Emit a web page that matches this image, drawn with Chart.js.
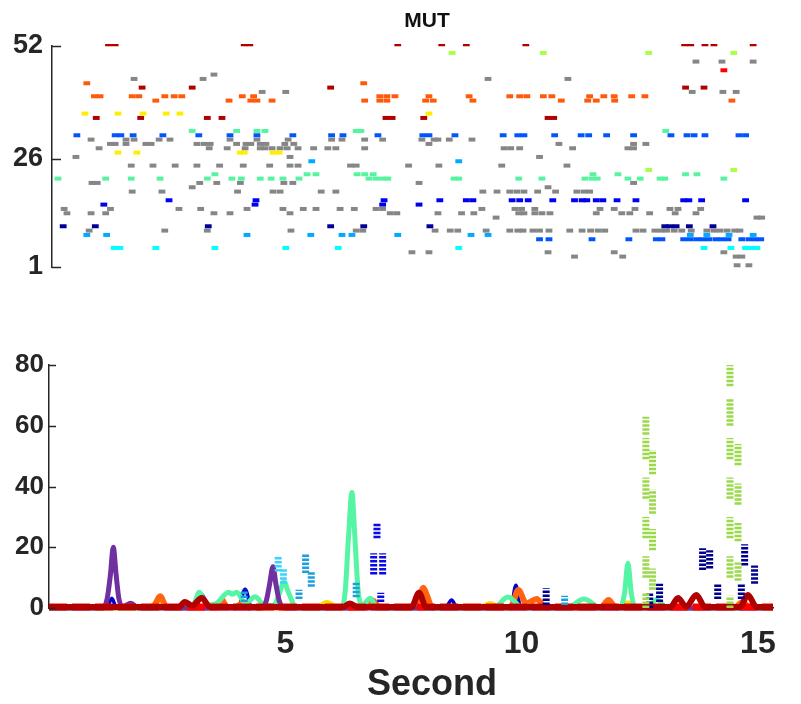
<!DOCTYPE html>
<html>
<head>
<meta charset="utf-8">
<script src="https://cdn.jsdelivr.net/npm/chart.js@4.4.1/dist/chart.umd.min.js"></script>
<style>
  html, body { margin: 0; padding: 0; background: #ffffff; }
  #wrap { position: relative; width: 801px; height: 704px; background: #ffffff; }
  #topc { position: absolute; left: 0; top: 0; }
  #botc { position: absolute; left: 0; top: 300px; }
</style>
</head>
<body>
<div id="wrap">
  <canvas id="topc" width="801" height="300"></canvas>
  <canvas id="botc" width="801" height="404"></canvas>
</div>
<script>
// ---------------- DATA ----------------
// Raster (top panel): neuron id and spike times (s)
const neuronIds = [52, 50, 48, 46, 45, 44, 43, 42, 41, 40, 39, 36, 35, 32, 31, 30, 29, 28, 27, 26, 25, 24, 23, 22, 21, 20, 19, 18, 16, 15, 14, 13, 12, 10, 9, 8, 7, 5, 4, 3, 1];
const spikeTimes = [
  [1.26, 1.40, 4.13, 4.25, 7.38, 8.31, 8.83, 10.09, 13.45, 13.58, 13.88, 14.07, 14.90],
  [8.53, 10.46, 12.69, 14.49],
  [13.69, 14.24, 14.90],
  [14.28],
  [3.49],
  [1.80, 3.26, 9.29, 10.98],
  [0.80, 6.66],
  [1.97, 3.03, 5.96, 13.47, 13.86],
  [4.51, 5.01, 13.61, 14.26, 14.54],
  [0.96, 1.08, 1.76, 1.90, 2.45, 2.65, 2.81, 4.09, 4.33, 7.00, 7.15, 7.32, 8.04, 8.89, 9.75, 9.96, 10.11, 10.46, 10.64, 11.44, 11.74, 11.96, 12.33, 12.61],
  [2.26, 3.81, 4.27, 4.40, 4.72, 6.68, 7.00, 7.15, 7.97, 8.13, 8.97, 10.84, 11.40, 11.58, 11.97, 14.45],
  [0.76, 1.46, 1.99, 2.48, 2.77, 8.04],
  [1.00, 1.94, 3.35, 3.66, 7.13, 7.26, 7.93, 10.56, 10.68],
  [3.03, 3.97, 4.40, 4.57, 6.50, 6.60, 13.05],
  [0.59, 1.40, 1.52, 1.78, 2.41, 3.17, 3.83, 4.40, 5.16, 5.98, 6.22, 6.96, 7.91, 8.04, 8.59, 9.61, 9.92, 10.05, 10.70, 11.26, 11.42, 11.80, 12.37, 13.16, 13.50, 13.65, 13.88, 14.60, 14.74],
  [0.89, 1.63, 1.80, 2.33, 2.56, 3.83, 4.40, 5.06, 5.98, 6.20, 6.68, 7.06, 7.89, 8.15, 8.23, 8.47, 8.95],
  [1.30, 1.40, 1.63, 2.05, 2.16, 3.13, 3.28, 3.41, 3.97, 4.17, 4.27, 4.47, 4.59, 4.99, 5.18, 8.04, 10.79, 12.37, 12.63],
  [1.06, 3.39, 3.77, 4.15, 4.47, 4.57, 4.72, 4.89, 5.04, 5.27, 5.60, 5.90, 6.07, 6.68, 9.63, 9.77, 9.96, 11.08, 12.25, 12.37],
  [1.46, 1.86, 4.05, 4.13, 4.74, 4.87],
  [0.57, 5.10, 10.38],
  [5.56, 8.67],
  [1.74, 2.20, 2.67, 3.13, 3.61, 4.11, 4.67, 5.10, 5.27, 6.38, 6.50, 7.61, 8.25, 9.58, 10.96],
  [12.69, 14.49],
  [3.51, 5.46, 5.65, 6.52, 6.68, 6.86, 11.51, 12.04, 13.47, 13.71],
  [0.19, 1.20, 1.74, 2.35, 3.35, 3.87, 4.07, 4.47, 4.70, 4.95, 5.29, 6.77, 6.92, 7.06, 7.17, 8.57, 8.67, 9.94, 10.43, 11.34, 11.49, 11.60, 12.25, 12.51, 12.93, 13.03, 14.28],
  [0.91, 1.02, 3.19, 3.55, 4.05, 4.97, 5.16, 7.83, 12.37],
  [3.03, 10.56],
  [1.76, 2.39, 3.99, 4.74, 4.89, 5.76, 6.07, 9.18, 9.48, 9.75, 9.90, 10.05, 10.34, 10.72, 11.17, 11.32, 11.44],
  [2.54, 4.38, 7.09, 8.27, 8.83, 8.97, 9.80, 9.96, 10.14, 10.66, 11.12, 11.28, 11.38, 11.58, 11.72, 12.02, 12.42, 13.43, 13.54, 13.81, 14.74],
  [1.16, 4.36, 7.06, 7.83],
  [0.32, 1.30, 2.75, 3.21, 4.19, 4.95, 5.38, 5.65, 6.16, 6.46, 6.92, 7.06, 9.16, 9.86, 10.00, 10.28, 11.66, 11.96, 12.40, 13.14, 13.31, 13.79],
  [0.38, 0.89, 1.20, 3.49, 3.83, 5.10, 7.22, 7.36, 8.23, 8.73, 8.99, 9.94, 10.05, 10.28, 10.43, 10.60, 11.58, 12.12, 12.29, 12.71, 13.25, 13.69],
  [9.46, 14.98, 15.08],
  [0.30, 0.98, 3.37, 5.96, 6.66, 8.06, 13.03, 13.14, 13.27, 13.55, 14.05],
  [0.85, 2.45, 3.35, 5.12, 6.50, 6.64, 8.17, 8.49, 8.65, 9.25, 9.75, 9.92, 10.03, 10.24, 10.38, 10.58, 11.02, 11.28, 11.46, 11.62, 11.76, 12.42, 12.57, 12.82, 12.95, 13.07, 13.23, 13.39, 13.59, 13.92, 14.07, 14.20, 14.35, 14.51, 14.62],
  [0.80, 1.22, 4.19, 5.54, 6.20, 6.41, 7.38, 8.93, 9.29, 13.57, 13.92, 14.39, 14.90],
  [10.38, 10.58, 11.49, 12.27, 12.85, 12.97, 13.43, 13.57, 13.71, 13.84, 13.97, 14.12, 14.24, 14.37, 14.66, 14.81, 14.94, 15.06],
  [1.38, 1.50, 2.26, 3.51, 5.01, 6.12, 8.67, 13.86, 14.43, 14.74, 14.88, 14.98],
  [7.68, 8.04, 10.56, 11.96, 14.28],
  [11.12, 12.14, 14.54, 14.66],
  [14.56, 14.81]
];
const rasterTickValues = [1, 26, 52];

// Rate curves (bottom panel): time (s) and rate values
const purpleT = [0, 1.14, 1.23, 1.30, 1.36, 1.42, 1.48, 1.57, 1.73, 1.89, 4.50, 4.60, 4.67, 4.74, 4.80, 4.87, 4.98, 15.32];
const purpleV = [0, 0, 3, 11, 20, 11, 3, 0.5, 1.6, 0, 0, 2.5, 8, 13.6, 8, 2.5, 0, 0];
const aquaT = [0, 3.03, 3.18, 3.34, 3.54, 3.80, 3.88, 3.97, 4.16, 4.36, 4.57, 4.75, 4.88, 4.97, 5.07, 5.24, 6.19, 6.27, 6.34, 6.41, 6.47, 6.54, 6.63, 6.80, 6.94, 9.41, 9.71, 10.03, 10.96, 11.32, 11.68, 12.08, 12.18, 12.25, 12.32, 12.41, 12.66, 12.86, 13.07, 15.32];
const aquaV = [0, 0, 5.2, 1, 1.5, 5.2, 4.5, 5.2, 1.5, 3.7, 0.8, 0.8, 5, 8.7, 5, 0, 0, 6, 24, 38, 24, 6, 1, 3.2, 0, 0, 3.6, 0, 0, 3, 0, 0, 5, 14.7, 5, 0, 0, 2.8, 0, 0];
const orangeT = [0, 2.20, 2.35, 2.49, 3.54, 3.66, 3.77, 3.95, 4.08, 4.21, 6.74, 6.86, 6.99, 7.73, 7.84, 7.92, 8.00, 8.11, 9.77, 9.93, 10.10, 10.32, 10.50, 11.68, 11.84, 11.99, 14.51, 14.68, 14.82, 15.32];
const orangeV = [0.2, 0.2, 3.9, 0.2, 0.2, 2.6, 0.2, 0.2, 1.5, 0.2, 0.2, 2.4, 0.2, 0.2, 4, 6.7, 4, 0.2, 0.2, 5.9, 1.5, 3.0, 0.2, 0.2, 2.6, 0.2, 0.2, 2, 0.2, 0.2];
const darkRedT = [0, 2.75, 2.87, 3.03, 3.23, 3.41, 6.22, 6.36, 6.53, 7.67, 7.83, 7.98, 13.15, 13.31, 13.48, 13.70, 13.88, 14.62, 14.79, 14.97, 15.32];
const darkRedV = [0.3, 0.3, 2.0, 0.8, 3.3, 0.3, 0.3, 1.5, 0.3, 0.3, 5.0, 0.3, 0.3, 3.3, 0.5, 4.3, 0.3, 0.3, 4.3, 0.3, 0.3];
const redT = [0, 15.32];
const redV = [0.3, 0.3];
const yellowT = [0, 2.15, 2.30, 2.46, 5.70, 5.88, 6.07, 9.16, 9.33, 9.52, 12.09, 12.25, 12.40, 15.32];
const yellowV = [0.3, 0.3, 2, 0.3, 0.3, 1.7, 0.3, 0.3, 1.3, 0.3, 0.3, 1.6, 0.3, 0.3];
const navyT = [0, 1.22, 1.33, 1.43, 3.10, 3.23, 3.39, 4.00, 4.15, 4.29, 8.38, 8.52, 8.64, 9.77, 9.88, 9.98, 15.32];
const navyV = [0, 0, 3.2, 0, 0, 4.5, 0, 0, 6.2, 0, 0, 2.6, 0, 0, 7.5, 0, 0];
// noisy (dotted) traces: [time, low value, high value]
const limeBursts = [[12.63,57,63],[12.63,49,56],[12.63,36,43],[12.63,23,30],[12.63,10,17],[12.63,0,5],[12.77,44,52],[12.77,31,39],[12.77,19,26],[12.77,6,13],[14.41,73,80],[14.41,60,69],[14.41,49,56],[14.41,36,43],[14.41,23,30],[14.41,10,17],[14.41,0,4],[14.58,47,54],[14.58,34,41],[14.58,22,28],[14.58,9,15]];
const navyBursts = [[13.83,12.5,19.7],[13.98,13,19],[14.72,14,21],[14.93,8,14],[14.15,3,8],[14.65,3,8],[12.92,2,8],[12.71,0,5],[10.52,1,6.5]];
const blueBursts = [[6.94,23,28],[6.87,11,18],[7.06,11,18],[7.02,2,5]];
const lightBlueBursts = [[5.43,11.5,18],[5.55,7,12],[5.29,3,6],[6.50,3.5,8.5],[4.13,2,6],[10.91,1,4]];
const cyanBursts = [[4.85,12,17],[4.96,8,13]];
const rateTickValues = [0, 20, 40, 60, 80];
const timeTickValues = [5, 10, 15];

// ---------------- STYLE ----------------
const GRAY = '#868686';
const rowColor = {
  52:'#b00000', 50:'#aaff44', 48:GRAY, 46:'#ff0000', 45:GRAY, 44:GRAY, 43:'#ff5a0a', 42:'#b00000', 41:GRAY,
  40:'#ff5a0a', 39:'#ff5a0a', 36:'#ffee00', 35:'#b00000', 32:'#55f5a0', 31:'#0055ff', 30:GRAY, 29:GRAY, 28:GRAY,
  27:'#ffee00', 26:GRAY, 25:'#00aaff', 24:GRAY, 23:'#aaff44', 22:'#55f5a0', 21:'#55f5a0', 20:GRAY, 19:GRAY,
  18:GRAY, 16:'#0000ee', 15:'#0000ee', 14:GRAY, 13:GRAY, 12:GRAY, 10:'#000099', 9:GRAY, 8:'#00aaff',
  7:'#0055ff', 5:'#00ffff', 4:GRAY, 3:GRAY, 1:GRAY
};
const ROW_CENTER = 0.4;  // spike mark sits slightly above the neuron index line
const AXIS_COLOR = '#262626';
const X_MIN_TOP = 0.0635, X_MIN_BOT = 0, X_MAX = 15.32;

const inwardTicks = {
  id: 'inwardTicks',
  afterDatasetsDraw(chart, args, opts) {
    const ys = chart.scales.y;
    const ctx = chart.ctx;
    ctx.save();
    ctx.strokeStyle = AXIS_COLOR;
    ctx.lineWidth = opts.width || 1.5;
    ys.ticks.forEach(t => {
      const py = Math.round(ys.getPixelForValue(t.value)) + 0.5;
      ctx.beginPath();
      ctx.moveTo(ys.right, py);
      ctx.lineTo(ys.right + (opts.len || 7), py);
      ctx.stroke();
    });
    ctx.restore();
  }
};
// free-positioned chart texts (title / axis label)
const chartTexts = {
  id: 'chartTexts',
  afterDraw(chart, args, opts) {
    const ctx = chart.ctx;
    ctx.save();
    (opts.items || []).forEach(it => {
      ctx.font = it.font;
      ctx.fillStyle = it.color;
      ctx.textAlign = 'center';
      ctx.textBaseline = 'middle';
      ctx.fillText(it.text, it.x, it.y);
    });
    ctx.restore();
  }
};

Chart.defaults.animation = false;
Chart.defaults.font.family = "'Liberation Sans', Arial, sans-serif";

// ---------------- TOP: raster ----------------
const topDatasets = neuronIds.map((id, i) => ({
  label: 'n' + id,
  data: spikeTimes[i].map(t => ({ x: t, y: id + ROW_CENTER })),
  showLine: false,
  pointStyle: 'line',
  pointRadius: 3.4,
  pointHoverRadius: 3.4,
  pointBorderWidth: 4,
  pointHoverBorderWidth: 4,
  borderWidth: 4,
  borderColor: rowColor[id],
  pointBorderColor: rowColor[id],
  backgroundColor: rowColor[id],
  clip: { left: 6, top: 2, right: 6, bottom: 2 }
}));

new Chart(document.getElementById('topc'), {
  type: 'scatter',
  data: { datasets: topDatasets },
  options: {
    responsive: false,
    devicePixelRatio: 1,
    layout: { padding: { left: 0, right: 28, top: 46, bottom: 33 } },
    plugins: {
      legend: { display: false },
      tooltip: { enabled: false },
      title: { display: false },
      inwardTicks: { len: 9, width: 1.5 },
      chartTexts: { items: [
        { text: 'MUT', x: 427, y: 21, color: '#111111', font: "bold 21px 'Liberation Sans Narrow', 'Liberation Sans', Arial, sans-serif" }
      ] }
    },
    scales: {
      x: { type: 'linear', min: X_MIN_TOP, max: X_MAX, display: false },
      y: {
        type: 'linear', min: 1, max: 52,
        afterBuildTicks: s => { s.ticks = rasterTickValues.map(v => ({ value: v })); },
        afterFit: s => { s.width = 52; },
        grid: { display: false, drawTicks: false },
        border: { display: true, color: AXIS_COLOR, width: 1.5 },
        ticks: {
          color: AXIS_COLOR, padding: 9,
          font: { family: "'Liberation Sans Narrow', 'Liberation Sans', Arial, sans-serif", size: 27, weight: 'bold' }
        }
      }
    }
  },
  plugins: [inwardTicks, chartTexts]
});

// ---------------- BOTTOM: rates ----------------
const zip = (T, V) => T.map((t, i) => ({ x: t, y: V[i] }));
const bursts = B => {
  const out = [];
  B.forEach(([t, lo, hi]) => { out.push({ x: t, y: lo }, { x: t, y: hi }, { x: t, y: null }); });
  return out;
};
const smooth = (label, data, color, width) => ({
  label, data, borderColor: color, backgroundColor: color, borderWidth: width,
  pointRadius: 0, pointHoverRadius: 0, cubicInterpolationMode: 'monotone', fill: false, clip: 6
});
const dotted = (label, data, color) => ({
  label, data, borderColor: color, backgroundColor: color, borderWidth: 7, borderDash: [2.5, 1.5],
  pointRadius: 0, pointHoverRadius: 0, tension: 0, spanGaps: false, fill: false, clip: 6
});

const botDatasets = [
  dotted('lime', bursts(limeBursts), '#9ad94a'),
  dotted('navy burst', bursts(navyBursts), '#00008f'),
  dotted('blue burst', bursts(blueBursts), '#0a0ae6'),
  dotted('light blue burst', bursts(lightBlueBursts), '#1d9fdc'),
  dotted('cyan burst', bursts(cyanBursts), '#38d4ff'),
  smooth('dark red', zip(darkRedT, darkRedV), '#b00000', 6),
  Object.assign(smooth('red', zip(redT, redV), '#ff0000', 7), { borderDash: [18, 5] }),
  smooth('purple', zip(purpleT, purpleV), '#7030a0', 5),
  smooth('aqua', zip(aquaT, aquaV), '#55f5a5', 5),
  smooth('orange', zip(orangeT, orangeV), '#ff6410', 6),
  smooth('yellow', zip(yellowT, yellowV), '#ffdd00', 6),
  smooth('navy', zip(navyT, navyV), '#0000c8', 3.5)
];

new Chart(document.getElementById('botc'), {
  type: 'line',
  data: { datasets: botDatasets },
  options: {
    responsive: false,
    devicePixelRatio: 1,
    layout: { padding: { left: 0, right: 28, top: 65, bottom: 0 } },
    plugins: {
      legend: { display: false },
      tooltip: { enabled: false },
      inwardTicks: { len: 7, width: 1.5 },
      chartTexts: { items: [
        { text: 'Second', x: 432, y: 385, color: AXIS_COLOR, font: "bold 36px 'Liberation Sans', Arial, sans-serif" }
      ] }
    },
    scales: {
      x: {
        type: 'linear', min: X_MIN_BOT, max: X_MAX,
        afterBuildTicks: s => { s.ticks = timeTickValues.map(v => ({ value: v })); },
        afterFit: s => { s.height = 96; },
        grid: { display: false, drawTicks: false },
        border: { display: true, color: AXIS_COLOR, width: 1.5 },
        ticks: { color: AXIS_COLOR, padding: 17, maxRotation: 0, font: { size: 32, weight: 'bold' } }
      },
      y: {
        type: 'linear', min: 0, max: 80,
        afterBuildTicks: s => { s.ticks = rateTickValues.map(v => ({ value: v })); },
        afterFit: s => { s.width = 49; },
        grid: { display: false, drawTicks: false },
        border: { display: true, color: AXIS_COLOR, width: 1.5 },
        ticks: { color: AXIS_COLOR, padding: 5, font: { size: 26, weight: 'bold' } }
      }
    }
  },
  plugins: [inwardTicks, chartTexts]
});
</script>
</body>
</html>
